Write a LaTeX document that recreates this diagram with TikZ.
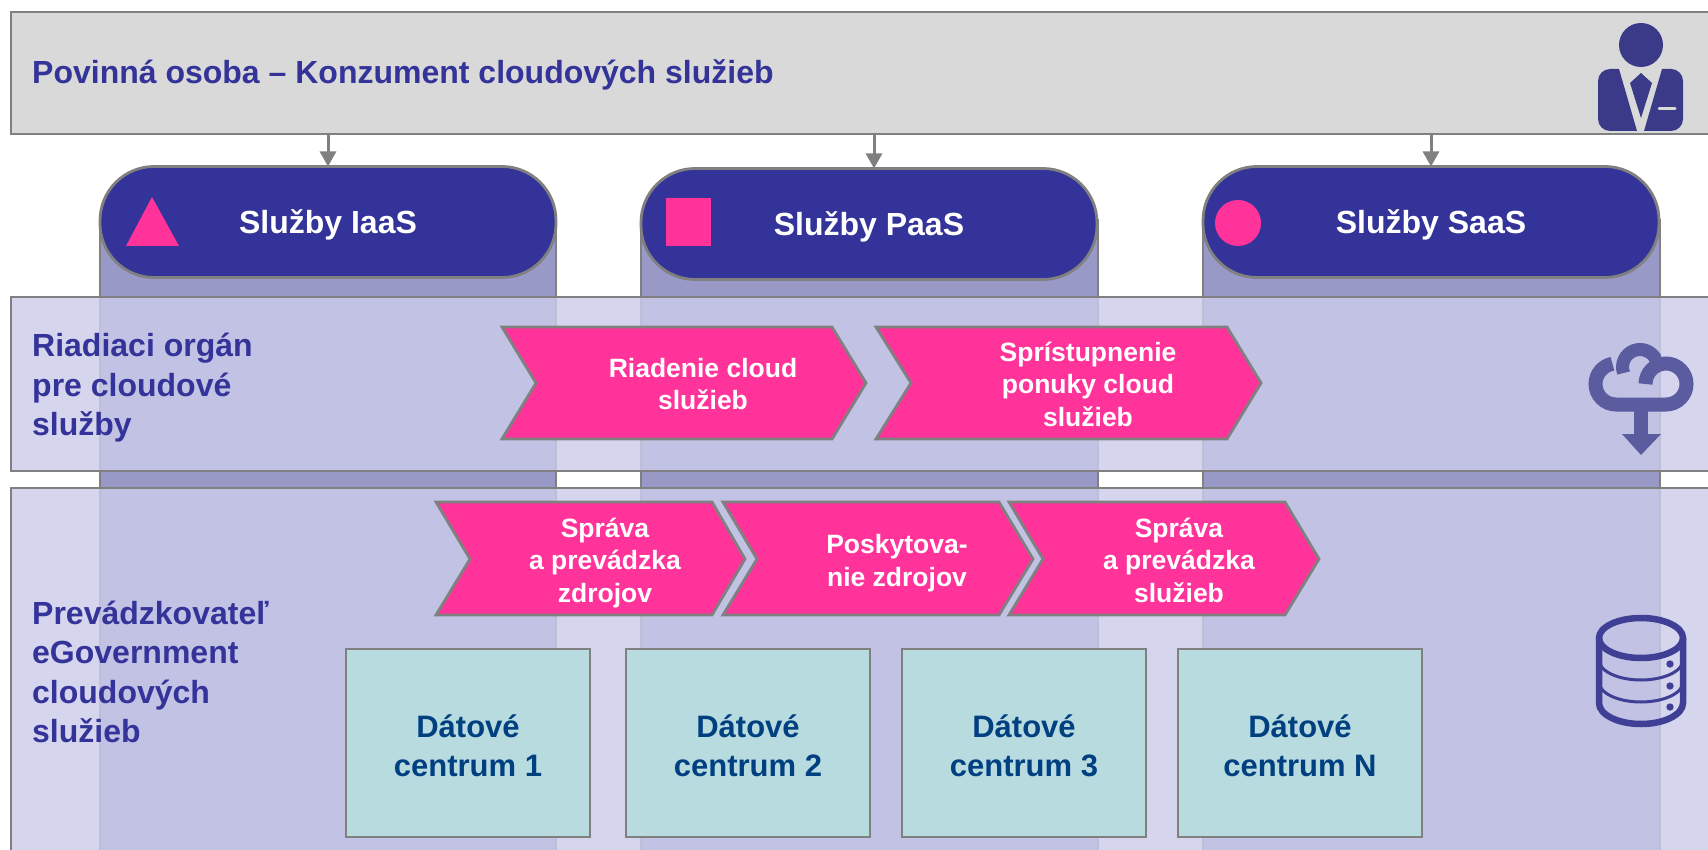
\documentclass[tikz,border=0pt]{standalone}
\usepackage{fontspec}
\setmainfont{Liberation Sans}
\usetikzlibrary{arrows.meta}
\definecolor{navy}{HTML}{333399}
\definecolor{pink}{HTML}{FF3399}
\definecolor{edge}{HTML}{808080}
\definecolor{lilac}{HTML}{CCCCEB}
\definecolor{column}{HTML}{9999C8}
\definecolor{teal}{HTML}{B8DBE0}
\definecolor{dctext}{HTML}{004080}
\definecolor{person}{HTML}{3A3A88}
\definecolor{cloud}{HTML}{5B5BA0}
\definecolor{dbase}{HTML}{3F3F96}
\newcommand{\dcname}[1]{\rule{0pt}{28pt}Dátové\\centrum #1}
\tikzset{
  bar/.style={draw=edge, line width=2.8pt, anchor=north west, inner sep=0pt, outer sep=0pt},
  band/.style={bar, fill=lilac, fill opacity=0.82},
  pill/.style={draw=edge, line width=2.8pt, fill=navy, text=white, font=\fontsize{32}{36}\selectfont\bfseries, text depth=0pt,
    minimum width=456pt, minimum height=111pt, rounded corners=54pt, inner sep=0pt, outer sep=0pt},
  pillicon/.style={fill=pink},
  heading/.style={anchor=west, align=left, text=navy, inner sep=0pt, font=\fontsize{32}{39.5}\selectfont\bfseries},
  chevron/.style={draw=edge, line width=2.8pt, fill=pink, line join=miter},
  chevlabel/.style={align=center, text=white, inner sep=0pt, font=\fontsize{26.5}{32.5}\selectfont\bfseries},
  dcbox/.style={draw=edge, line width=2.5pt, fill=teal, text=dctext, align=center, minimum width=244pt, minimum height=188pt,
    inner sep=0pt, outer sep=0pt, font=\fontsize{31}{39}\selectfont\bfseries},
  link/.style={draw=edge, line width=3pt, -{Triangle[width=16pt,length=15pt]}}
}
\begin{document}
\begin{tikzpicture}[x=1pt,y=-1pt]
  \useasboundingbox (0,0) rectangle (1708,850);
  \clip (0,0) rectangle (1708,850);
  \fill[white] (0,0) rectangle (1708,850);
  \draw[draw=edge, line width=2.8pt, fill=column] (100,220) rectangle (556,870);
  \draw[draw=edge, line width=2.8pt, fill=column] (641,220) rectangle (1098,870);
  \draw[draw=edge, line width=2.8pt, fill=column] (1203,220) rectangle (1660,870);
  \node[bar, fill=black!15, minimum width=1720pt, minimum height=122pt] (consumer) at (11,12) {};
  \node[band, minimum width=1720pt, minimum height=174pt] (control) at (11,297) {};
  \node[band, minimum width=1720pt, minimum height=400pt] (operator) at (11,488) {};
  \node[pill] (iaas) at (328,222) {Služby IaaS};
  \node[pill] (paas) at (869,224) {Služby PaaS};
  \node[pill] (saas) at (1431,222) {Služby SaaS};
  \coordinate (paastop) at ([xshift=5pt]paas.north);
  \draw[link] (consumer.south -| iaas.north) -- (iaas.north);
  \draw[link] (consumer.south -| paastop) -- (paastop);
  \draw[link] (consumer.south -| saas.north) -- (saas.north);
  \fill[pillicon] (152,197) -- (179,246) -- (126,246) -- cycle;
  \fill[pillicon] (666,198) rectangle (711,246);
  \fill[pillicon] (1238,223) circle (23);
  \node[heading] (consumertext) at (32,75) {Povinná osoba – Konzument cloudových služieb};
  \node[heading] (controltext) at (32,388) {Riadiaci orgán\\pre cloudové\\služby};
  \node[heading] (operatortext) at (32,672) {Prevádzkovateľ\\eGovernment\\cloudových\\služieb};
  \draw[chevron] (502,327) -- (832,327) -- (866,383) -- (832,439) -- (502,439) -- (536,383) -- cycle;
  \draw[chevron] (876,327) -- (1227,327) -- (1261,383) -- (1227,439) -- (876,439) -- (911,383) -- cycle;
  \draw[chevron] (436,502) -- (712,502) -- (745,559) -- (712,615) -- (436,615) -- (470,559) -- cycle;
  \draw[chevron] (723,502) -- (999,502) -- (1033,559) -- (999,615) -- (723,615) -- (757,559) -- cycle;
  \draw[chevron] (1009,502) -- (1285,502) -- (1319,559) -- (1285,615) -- (1009,615) -- (1043,559) -- cycle;
  \node[chevlabel] (riadenie) at (703,384) {Riadenie cloud\\služieb};
  \node[chevlabel] (ponuka) at (1088,384) {Sprístupnenie\\ponuky cloud\\služieb};
  \node[chevlabel] (zdroje) at (605,563) {Správa\\a prevádzka\\zdrojov};
  \node[chevlabel] (poskyt) at (897,563) {Poskytova-\\nie zdrojov};
  \node[chevlabel] (sluzby) at (1179,560) {Správa\\a prevádzka\\služieb};
  \node[dcbox] (dc1) at (468,743) {\dcname{1}};
  \node[dcbox] (dc2) at (748,743) {\dcname{2}};
  \node[dcbox] (dc3) at (1024,743) {\dcname{3}};
  \node[dcbox] (dcn) at (1300,743) {\dcname{N}};
  % person
  \fill[person] (1641,45) circle (22);
  \fill[person] (1619,69) -- (1637,131) -- (1610,131) arc[start angle=270, end angle=180, radius=12pt] -- (1598,81)
    arc[start angle=180, end angle=90, radius=12pt] -- cycle;
  \fill[person] (1662,69) -- (1644,131) -- (1671,131) arc[start angle=270, end angle=360, radius=12pt] -- (1683,81)
    arc[start angle=0, end angle=90, radius=12pt] -- cycle;
  \fill[person] (1641,73) -- (1652,83) -- (1641,118) -- (1630,83) -- cycle;
  \draw[black!15, line width=3pt, line cap=round] (1659,109) -- (1675,109);
  % cloud
  \draw[draw=cloud, line width=14pt] (1645.5,384) arc[start angle=180, end angle=-90, radius=20.5pt] -- (1616,404.5)
    arc[start angle=-90, end angle=-260, radius=20.5pt];
  \draw[draw=cloud, line width=13pt] (1623.6,373) arc[start angle=200, end angle=25, radius=17.5pt];
  \fill[cloud] (1634,405) rectangle (1648,435);
  \fill[cloud] (1622,434) -- (1661,434) -- (1641,455) -- cycle;
  % database
  \draw[draw=dbase, line width=6.5pt] (1641,638) ellipse (42 and 20);
  \draw[draw=dbase, line width=6.5pt] (1599,638) -- (1599,703) arc[x radius=42pt, y radius=21pt, start angle=180, end angle=360] -- (1683,638);
  \draw[draw=dbase, line width=3pt] (1599,660) arc[x radius=42pt, y radius=20pt, start angle=180, end angle=360];
  \draw[draw=dbase, line width=3pt] (1599,682) arc[x radius=42pt, y radius=20pt, start angle=180, end angle=360];
  \fill[dbase] (1670,664) circle (3.7);
  \fill[dbase] (1670,686) circle (3.7);
  \fill[dbase] (1670,707) circle (3.7);
\end{tikzpicture}
\end{document}
